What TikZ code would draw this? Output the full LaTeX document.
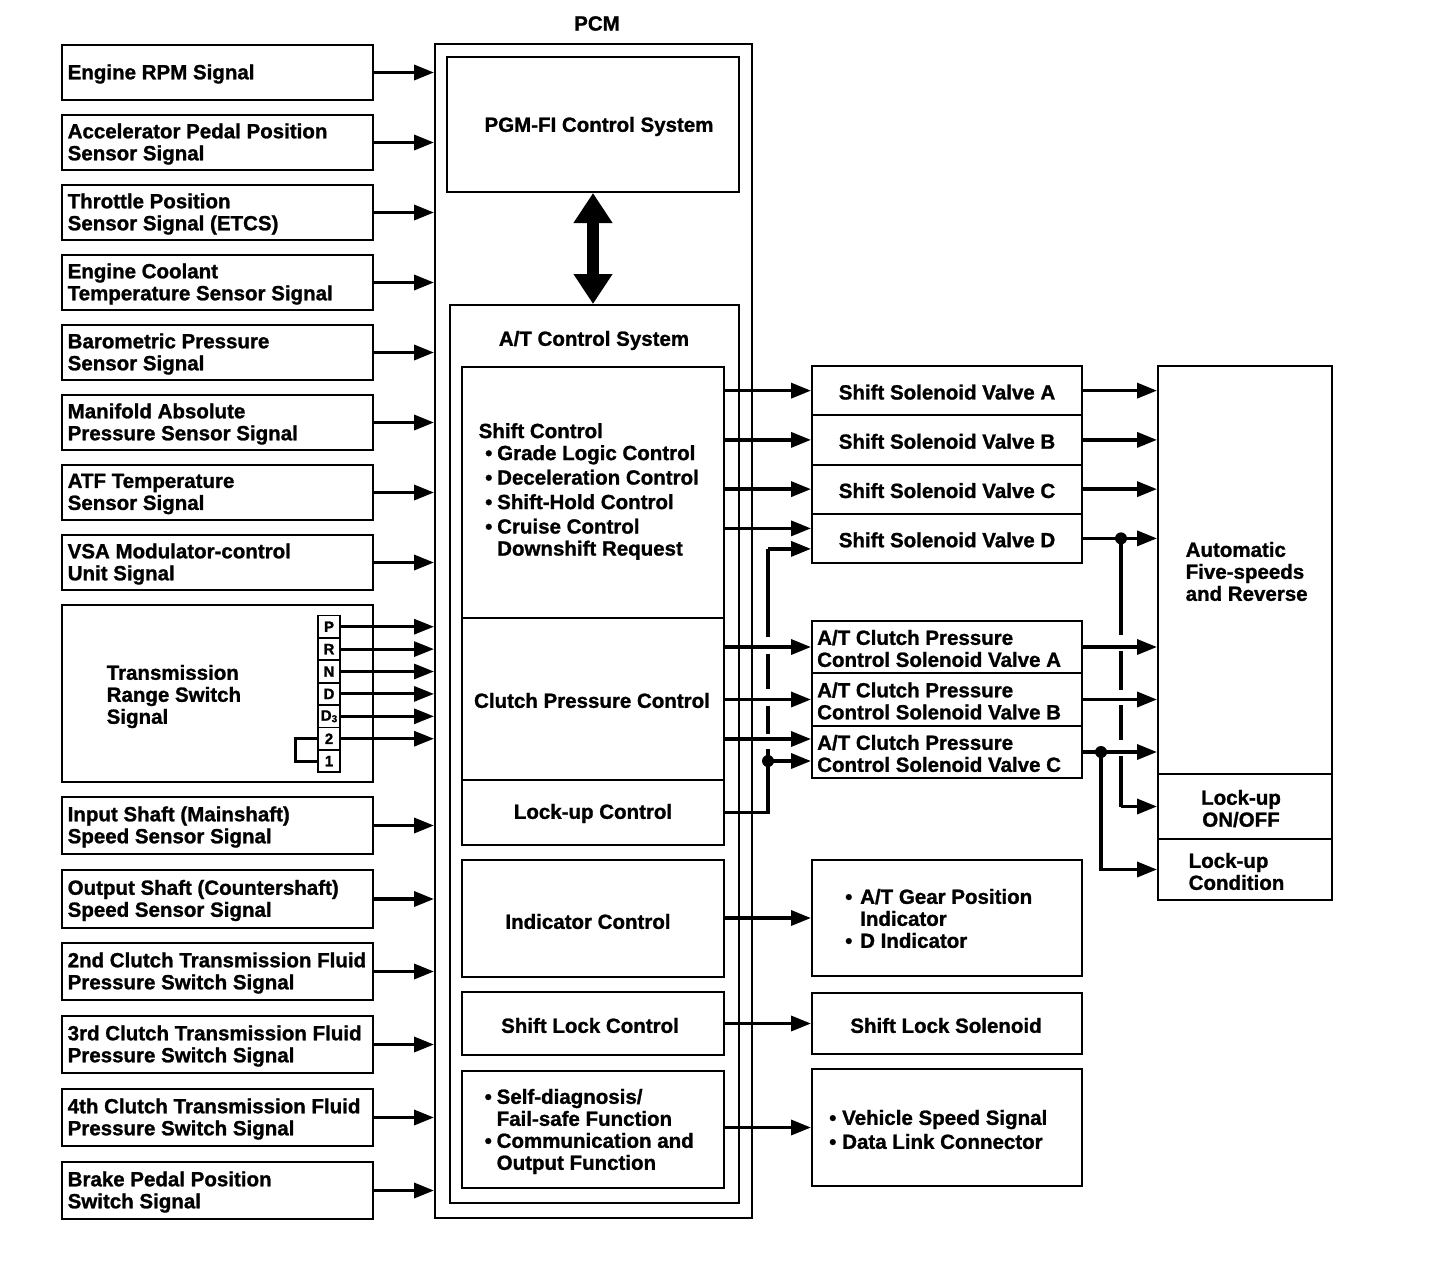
\documentclass[tikz,border=0pt]{standalone}
\usepackage{fontspec}
\setmainfont{Liberation Sans}[BoldFeatures={FakeBold=1.2}]
\usetikzlibrary{arrows.meta,fit,calc}
\newcommand\bl[1]{\makebox[#1][l]{\hspace{1pt}\textbullet}}
\newcommand\ind[1]{\hspace*{#1}}
\begin{document}
\begin{tikzpicture}[x=1pt,y=-1pt,
  bx/.style={draw, line width=2pt, inner sep=0pt},
  txt/.style={font=\bfseries\fontsize{20.5}{22}\selectfont, inner sep=0pt, align=left, yshift=-1.5pt},
  ctxt/.style={txt, align=center},
  sw/.style={font=\bfseries\fontsize{15}{15}\selectfont, inner sep=0pt},
  ln/.style={line width=3.5pt},
  arr/.style={line width=3.5pt, -{Triangle[length=20pt,width=15pt]}},
  arrs/.style={line width=3pt, -{Triangle[length=20pt,width=15pt]}},
  dot/.style={circle, fill, inner sep=0pt, minimum size=12pt},
  dbl/.style={line width=12pt, {Triangle[length=30pt,width=37pt]}-{Triangle[length=30pt,width=37pt]}},
]
\path[use as bounding box, fill=white] (0,0) rectangle (1456,1270);

% ---------- PCM ----------
\node[bx, fit={(435,44) (752,1218)}] (pcm) {};
\node[ctxt] (pcmt) at (597,22) {PCM};
\node[bx, fit={(447,57) (739,192)}] (pgm) {};
\node[ctxt] (pgmt) at (599,125) {PGM-FI Control System};
\node[bx, fit={(450,305) (739,1203)}] (atc) {};
\node[ctxt] (atct) at (594,339) {A/T Control System};
\draw[dbl] (pgm.south) -- (pgm.south |- atc.north);

\node[bx, fit={(462,367) (724,618)}] (shiftc) {};
\node[txt, anchor=west] (shiftct) at (478.5,490) {Shift Control\\
 \ind{5.5pt}\bl{13pt}Grade Logic Control\\[2.5pt]
 \ind{5.5pt}\bl{13pt}Deceleration Control\\[2.5pt]
 \ind{5.5pt}\bl{13pt}Shift-Hold Control\\[2.5pt]
 \ind{5.5pt}\bl{13pt}Cruise Control\\
 \ind{18.5pt}Downshift Request};
\node[bx, fit={(462,618) (724,780)}] (clutchc) {};
\node[ctxt] (clutchct) at (592,699) {Clutch Pressure Control};
\node[bx, fit={(462,780) (724,845)}] (lockc) {};
\node[ctxt] (lockct) at (593,812) {Lock-up Control};
\node[bx, fit={(462,860) (724,977)}] (indc) {};
\node[ctxt] (indct) at (588,920) {Indicator Control};
\node[bx, fit={(462,992) (724,1055)}] (slc) {};
\node[ctxt] (slct) at (590,1024) {Shift Lock Control};
\node[bx, fit={(462,1071) (724,1188)}] (sdc) {};
\node[txt, anchor=west] (sdct) at (483.5,1130) {\bl{13pt}Self-diagnosis/\\
 \ind{13pt}Fail-safe Function\\
 \bl{13pt}Communication and\\
 \ind{13pt}Output Function};

% ---------- inputs ----------
\newcommand\inbox[4]{%
 \node[bx, fit={(62,#2) (373,#3)}] (#1) {};
 \node[txt, anchor=west] (#1t) at ([xshift=6.5pt]#1.west) {#4};
 \draw[arr] (#1.east) -- (#1.east -| pcm.west);}
\inbox{in1}{45}{100}{Engine RPM Signal}
\inbox{in2}{115}{170}{Accelerator Pedal Position\\Sensor Signal}
\inbox{in3}{185}{240}{Throttle Position\\Sensor Signal (ETCS)}
\inbox{in4}{255}{310}{Engine Coolant\\Temperature Sensor Signal}
\inbox{in5}{325}{380}{Barometric Pressure\\Sensor Signal}
\inbox{in6}{395}{450}{Manifold Absolute\\Pressure Sensor Signal}
\inbox{in7}{465}{520}{ATF Temperature\\Sensor Signal}
\inbox{in8}{535}{590}{VSA Modulator-control\\Unit Signal}
\inbox{in10}{797}{854}{Input Shaft (Mainshaft)\\Speed Sensor Signal}
\inbox{in11}{870}{928}{Output Shaft (Countershaft)\\Speed Sensor Signal}
\inbox{in12}{943}{1000}{2nd Clutch Transmission Fluid\\Pressure Switch Signal}
\inbox{in13}{1016}{1073}{3rd Clutch Transmission Fluid\\Pressure Switch Signal}
\inbox{in14}{1089}{1146}{4th Clutch Transmission Fluid\\Pressure Switch Signal}
\inbox{in15}{1162}{1219}{Brake Pedal Position\\Switch Signal}

% transmission range switch
\node[bx, fit={(62,605) (373,782)}] (trs) {};
\node[txt, anchor=west] (trst) at (106.5,695) {Transmission\\Range Switch\\Signal};
\newcommand\swbox[4]{%
 \node[bx, line width=1.8pt, fit={(318,#2) (340,#3)}] (#1) {};
 \node[sw] (#1t) at (#1.center) {#4};}
\swbox{sP}{615.5}{637.9}{P}
\swbox{sR}{637.9}{660.3}{R}
\swbox{sN}{660.3}{682.7}{N}
\swbox{sD}{682.7}{705.1}{D}
\swbox{sDt}{705.1}{727.5}{D\raisebox{-1.5pt}{\fontsize{10}{10}\selectfont 3}}
\swbox{sII}{727.5}{749.9}{2}
\swbox{sI}{749.9}{772.3}{1}
\foreach \s in {sP,sR,sN,sD,sDt,sII}{\draw[arrs] (\s.east) -- (\s.east -| pcm.west);}
\draw[line width=3pt] (sII.west) -- ++(-22,0) |- (sI.west);

% ---------- outputs ----------
\newcommand\ssbox[4]{%
 \node[bx, fit={(812,#2) (1082,#3)}] (#1) {};
 \node[ctxt] (#1t) at (#1.center) {#4};}
\ssbox{ssA}{366}{415.25}{Shift Solenoid Valve A}
\ssbox{ssB}{415.25}{464.5}{Shift Solenoid Valve B}
\ssbox{ssC}{464.5}{513.75}{Shift Solenoid Valve C}
\ssbox{ssD}{513.75}{563}{Shift Solenoid Valve D}
\newcommand\cpbox[4]{%
 \node[bx, fit={(812,#2) (1082,#3)}] (#1) {};
 \node[txt, anchor=west] (#1t) at ([xshift=6pt]#1.west) {#4};}
\cpbox{cpA}{621}{673}{A/T Clutch Pressure\\Control Solenoid Valve A}
\cpbox{cpB}{673}{726}{A/T Clutch Pressure\\Control Solenoid Valve B}
\cpbox{cpC}{726}{778}{A/T Clutch Pressure\\Control Solenoid Valve C}

\node[bx, fit={(1158,366) (1332,774)}] (auto) {};
\node[txt, anchor=west] (autot) at (1185.5,570) {Automatic\\Five-speeds\\and Reverse};
\node[bx, fit={(1158,774) (1332,839)}] (lockon) {};
\node[ctxt] (lockont) at (1241,807) {Lock-up\\ON/OFF};
\node[bx, fit={(1158,839) (1332,900)}] (lockcond) {};
\node[txt, anchor=west] (lockcondt) at (1188.5,870) {Lock-up\\Condition};

\node[bx, fit={(812,860) (1082,976)}] (indb) {};
\node[txt, anchor=west] (indbt) at (844,917) {\bl{16pt}A/T Gear Position\\\ind{16pt}Indicator\\\bl{16pt}D Indicator};
\node[bx, fit={(812,993) (1082,1054)}] (slsb) {};
\node[ctxt] (slsbt) at (946,1024) {Shift Lock Solenoid};
\node[bx, fit={(812,1069) (1082,1186)}] (vsb) {};
\node[txt, anchor=west] (vsbt) at (828,1128) {\bl{14pt}Vehicle Speed Signal\\[2pt]\bl{14pt}Data Link Connector};

% ---------- connectors ----------
\draw[arr] (shiftc.east |- ssA.west) -- (ssA.west);
\draw[arr] (shiftc.east |- ssB.west) -- (ssB.west);
\draw[arr] (shiftc.east |- ssC.west) -- (ssC.west);
\coordinate (dhi) at ([yshift=10pt]ssD.west);
\coordinate (dlo) at ([yshift=-10.5pt]ssD.west);
\draw[arr] (shiftc.east |- dhi) -- (dhi);

\draw[arr] (clutchc.east |- cpA.west) -- (cpA.west);
\draw[arr] (clutchc.east |- cpB.west) -- (cpB.west);
\coordinate (chi) at ([yshift=13pt]cpC.west);
\coordinate (clo) at ([yshift=-9pt]cpC.west);
\draw[arr] (clutchc.east |- chi) -- (chi);

\coordinate (j1) at ($(clo)+(-43,0)$);
\draw[ln] (lockc.east) -| (j1);
\draw[arr] (j1) -- (clo);
\draw[ln, dash pattern=on 88pt off 17pt on 35pt off 17pt on 28pt off 15pt on 40pt] (j1 |- dlo) -- (j1);
\draw[arr] (j1 |- dlo) -- (dlo);
\node[dot] (d1) at (j1) {};

\foreach \s in {ssA,ssB,ssC,ssD,cpA,cpB,cpC}{\draw[arr] (\s.east) -- (\s.east -| auto.west);}
\coordinate (j2) at ($(ssD.east)+(38,0)$);
\draw[ln, dash pattern=on 97pt off 16pt on 39pt off 15pt on 35pt off 16pt on 80pt] (j2) -- (j2 |- lockon.west);
\draw[arr] (j2 |- lockon.west) -- (lockon.west);
\node[dot] (d2) at (j2) {};
\coordinate (j3) at ($(cpC.east)+(18,0)$);
\draw[arr] (j3) |- (lockcond.west);
\node[dot] (d3) at (j3) {};

\draw[arr] (indc.east |- indb.west) -- (indb.west);
\draw[arr] (slc.east |- slsb.west) -- (slsb.west);
\draw[arr] (sdc.east |- vsb.west) -- (vsb.west);
\end{tikzpicture}
\end{document}
